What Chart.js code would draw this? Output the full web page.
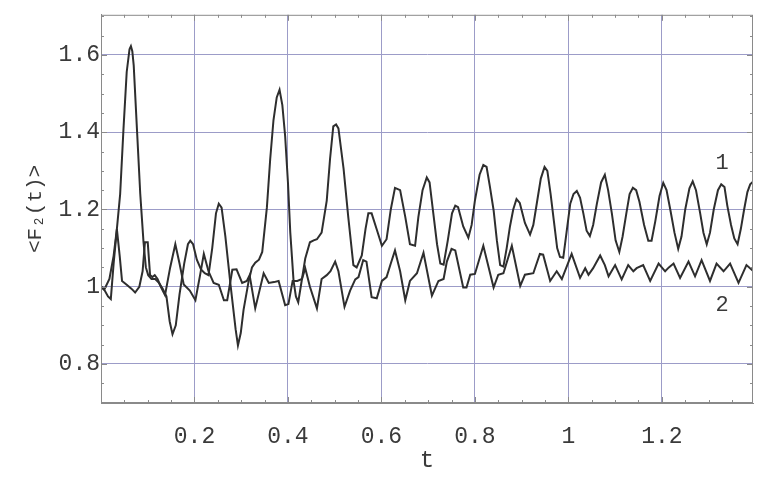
<!DOCTYPE html>
<html>
<head>
<meta charset="utf-8">
<script src="https://cdn.jsdelivr.net/npm/chart.js@4/dist/chart.umd.min.js"></script>
<style>
html,body{margin:0;padding:0;background:#fff;}
#wrap{width:771px;height:478px;position:relative;}
</style>
</head>
<body>
<div id="wrap"><canvas id="c" width="771" height="478"></canvas></div>
<script>
// ---- data ----
const xTickValues = [0.2, 0.4, 0.6, 0.8, 1.0, 1.2];
const yTickValues = [0.8, 1.0, 1.2, 1.4, 1.6];
const seriesNames = ['1', '2'];

const curve1T = [0,0.008,0.018,0.027,0.034,0.041,0.048,0.055,0.061,0.064,0.067,0.07,0.077,0.084,0.091,0.096,0.101,0.108,0.116,0.124,0.132,0.14,0.147,0.153,0.16,0.168,0.178,0.186,0.191,0.197,0.205,0.214,0.222,0.23,0.238,0.246,0.252,0.258,0.266,0.277,0.288,0.293,0.299,0.305,0.316,0.323,0.33,0.338,0.345,0.355,0.362,0.369,0.376,0.382,0.388,0.394,0.4,0.405,0.412,0.417,0.422,0.43,0.437,0.447,0.455,0.462,0.472,0.483,0.49,0.497,0.503,0.508,0.519,0.529,0.54,0.547,0.558,0.566,0.572,0.579,0.59,0.601,0.611,0.62,0.629,0.64,0.651,0.661,0.672,0.679,0.688,0.697,0.703,0.711,0.719,0.726,0.733,0.742,0.751,0.758,0.764,0.775,0.786,0.793,0.8,0.81,0.818,0.825,0.832,0.84,0.847,0.854,0.861,0.868,0.875,0.882,0.889,0.896,0.907,0.918,0.925,0.933,0.941,0.949,0.955,0.962,0.969,0.976,0.982,0.989,0.996,1.004,1.011,1.018,1.025,1.032,1.039,1.046,1.053,1.061,1.07,1.078,1.085,1.093,1.101,1.109,1.116,1.124,1.131,1.138,1.145,1.152,1.162,1.171,1.178,1.186,1.195,1.203,1.21,1.218,1.227,1.235,1.242,1.25,1.259,1.266,1.273,1.282,1.289,1.296,1.303,1.311,1.32,1.327,1.334,1.34,1.348,1.355,1.362,1.369,1.376,1.383,1.389,1.396];
const curve1F = [1.0,0.995,1.02,1.08,1.15,1.24,1.406,1.556,1.615,1.623,1.61,1.573,1.406,1.24,1.115,1.05,1.03,1.02,1.02,1.01,0.995,0.975,0.91,0.877,0.9,0.98,1.06,1.11,1.119,1.11,1.07,1.045,1.035,1.03,1.1,1.19,1.215,1.205,1.131,1.006,0.89,0.848,0.88,0.94,1.015,1.05,1.062,1.07,1.09,1.206,1.33,1.431,1.49,1.51,1.47,1.39,1.27,1.14,1.015,0.975,0.96,1.02,1.073,1.115,1.12,1.123,1.14,1.223,1.33,1.415,1.42,1.41,1.306,1.181,1.056,1.05,1.081,1.15,1.19,1.19,1.148,1.106,1.123,1.2,1.256,1.25,1.181,1.11,1.106,1.18,1.25,1.283,1.27,1.19,1.11,1.06,1.057,1.12,1.19,1.21,1.206,1.156,1.127,1.16,1.223,1.29,1.315,1.31,1.26,1.198,1.12,1.056,1.052,1.1,1.156,1.2,1.227,1.217,1.165,1.135,1.16,1.22,1.28,1.31,1.3,1.24,1.17,1.1,1.077,1.075,1.14,1.215,1.24,1.248,1.23,1.19,1.145,1.131,1.16,1.215,1.27,1.29,1.25,1.19,1.12,1.09,1.13,1.19,1.24,1.256,1.25,1.22,1.16,1.119,1.119,1.17,1.235,1.269,1.25,1.2,1.14,1.098,1.13,1.2,1.255,1.273,1.25,1.19,1.14,1.11,1.14,1.2,1.25,1.265,1.258,1.21,1.16,1.125,1.11,1.15,1.2,1.245,1.265,1.273];

const curve2T = [0,0.008,0.015,0.021,0.027,0.034,0.04,0.045,0.055,0.065,0.073,0.082,0.089,0.094,0.1,0.105,0.11,0.115,0.121,0.128,0.137,0.148,0.159,0.168,0.177,0.19,0.202,0.212,0.22,0.23,0.241,0.252,0.263,0.27,0.281,0.29,0.302,0.312,0.318,0.33,0.348,0.359,0.37,0.38,0.394,0.401,0.41,0.42,0.43,0.437,0.447,0.462,0.472,0.483,0.491,0.501,0.508,0.521,0.533,0.544,0.551,0.561,0.568,0.579,0.59,0.601,0.611,0.62,0.629,0.64,0.651,0.661,0.676,0.69,0.708,0.722,0.733,0.74,0.75,0.758,0.775,0.782,0.79,0.8,0.818,0.84,0.85,0.861,0.879,0.897,0.907,0.925,0.939,0.946,0.961,0.975,0.986,1.007,1.025,1.036,1.043,1.053,1.068,1.078,1.086,1.1,1.114,1.128,1.139,1.146,1.16,1.175,1.193,1.207,1.215,1.225,1.239,1.257,1.271,1.285,1.303,1.317,1.332,1.346,1.364,1.381,1.396];
const curve2F = [1.0,0.99,0.975,0.968,1.06,1.149,1.08,1.015,1.005,0.995,0.985,1.0,1.04,1.115,1.115,1.03,1.025,1.03,1.02,1.0,0.978,1.05,1.11,1.06,1.006,0.99,0.965,1.03,1.085,1.04,1.01,1.005,0.965,0.965,1.044,1.045,1.01,1.015,1.03,0.944,1.035,1.01,1.012,1.015,0.952,0.955,1.015,1.015,1.02,1.048,1.0,0.944,1.02,1.03,1.04,1.065,1.04,0.948,0.99,1.019,1.025,1.069,1.065,0.973,0.97,1.015,1.025,1.06,1.094,1.04,0.965,1.015,1.035,1.088,0.977,1.015,1.02,1.065,1.098,1.094,0.998,0.998,1.031,1.033,1.106,0.998,1.031,1.035,1.106,1.002,1.031,1.035,1.085,1.083,1.015,1.04,1.02,1.085,1.023,1.048,1.031,1.048,1.081,1.056,1.027,1.056,1.019,1.056,1.04,1.048,1.056,1.015,1.06,1.04,1.05,1.06,1.023,1.065,1.027,1.069,1.015,1.06,1.04,1.06,1.01,1.056,1.04];

// annotation anchors (in data units) for the curve labels
const labelAnchorT = [1.329, 1.329];
const labelAnchorF = [1.319, 0.951];

// ---- styles ----
const FONT = "'Liberation Mono', 'DejaVu Sans Mono', monospace";
const lineColor = '#2e2e2e';
const gridColor = '#9c9cc8';
const frameColor = '#8a8a8a';
const textColor = '#3a3a3a';

function pts(ts, fs){ return ts.map((t,i)=>({x:t, y:fs[i]})); }

const framePlugin = {
  id: 'frame',
  afterDraw(chart){
    const {ctx, chartArea:a, scales:{x, y}} = chart;
    ctx.save();
    ctx.strokeStyle = frameColor;
    ctx.lineWidth = 1;
    ctx.strokeRect(a.left+0.5, a.top+0.5, a.right-a.left-1, a.bottom-a.top-1);
    // minor ticks every 0.05
    ctx.beginPath();
    for (let k=1; k*0.05 < x.max; k++){
      const v = k*0.05;
      const px = Math.round(x.getPixelForValue(v))+0.5;
      const major = Math.abs(v*5 - Math.round(v*5)) < 1e-6;
      const L = major ? 6 : 3;
      ctx.moveTo(px, a.bottom); ctx.lineTo(px, a.bottom-L);
      ctx.moveTo(px, a.top); ctx.lineTo(px, a.top+L);
    }
    for (let k=Math.ceil(y.min/0.05); k*0.05 < y.max; k++){
      const v = k*0.05;
      const py = Math.round(y.getPixelForValue(v))+0.5;
      const major = Math.abs(v*5 - Math.round(v*5)) < 1e-6;
      const L = major ? 6 : 3;
      ctx.moveTo(a.left, py); ctx.lineTo(a.left+L, py);
      ctx.moveTo(a.right, py); ctx.lineTo(a.right-L, py);
    }
    ctx.stroke();
    // curve labels
    ctx.fillStyle = textColor;
    ctx.font = "22px " + FONT;
    ctx.textAlign = 'center';
    ctx.textBaseline = 'middle';
    seriesNames.forEach((n,i)=>{
      ctx.fillText(n, x.getPixelForValue(labelAnchorT[i]), y.getPixelForValue(labelAnchorF[i]));
    });
    ctx.restore();
  }
};

function fmt(v){ return Math.abs(v-1) < 1e-9 ? '1' : v.toFixed(1); }

new Chart(document.getElementById('c'), {
  type: 'line',
  data: {
    datasets: [
      {label: seriesNames[0], data: pts(curve1T, curve1F)},
      {label: seriesNames[1], data: pts(curve2T, curve2F)}
    ].map(d => Object.assign(d, {
      borderColor: lineColor, borderWidth: 2, pointRadius: 0, tension: 0, fill: false
    }))
  },
  options: {
    responsive: false,
    animation: false,
    events: [],
    layout: {padding: {top: 1, right: 18, left: 0, bottom: 0}},
    plugins: {legend: {display: false}, tooltip: {enabled: false}},
    scales: {
      x: {
        type: 'linear', min: 0, max: 1.395,
        afterBuildTicks: s => { s.ticks = xTickValues.map(v => ({value: v})); },
        afterFit: s => { s.height = 75; },
        grid: {color: gridColor, lineWidth: 1, drawTicks: false},
        border: {display: true, color: frameColor},
        ticks: {callback: v => fmt(v), color: textColor, font: {family: FONT, size: 23}, padding: 20, maxRotation: 0},
        title: {display: true, text: 't', color: textColor, font: {family: FONT, size: 24}, padding: {top: 0, bottom: 3}}
      },
      y: {
        type: 'linear', min: 0.699, max: 1.704,
        afterBuildTicks: s => { s.ticks = yTickValues.map(v => ({value: v})); },
        afterFit: s => { s.width = 101; },
        grid: {color: gridColor, lineWidth: 1, drawTicks: false},
        border: {display: true, color: frameColor},
        ticks: {callback: v => fmt(v), color: textColor, font: {family: FONT, size: 23}, padding: 1},
        title: {display: true, text: '<F\u2082(t)>', color: textColor, font: {family: FONT, size: 21}, padding: {top: 23, bottom: 0}}
      }
    }
  },
  plugins: [framePlugin]
});
</script>
</body>
</html>
